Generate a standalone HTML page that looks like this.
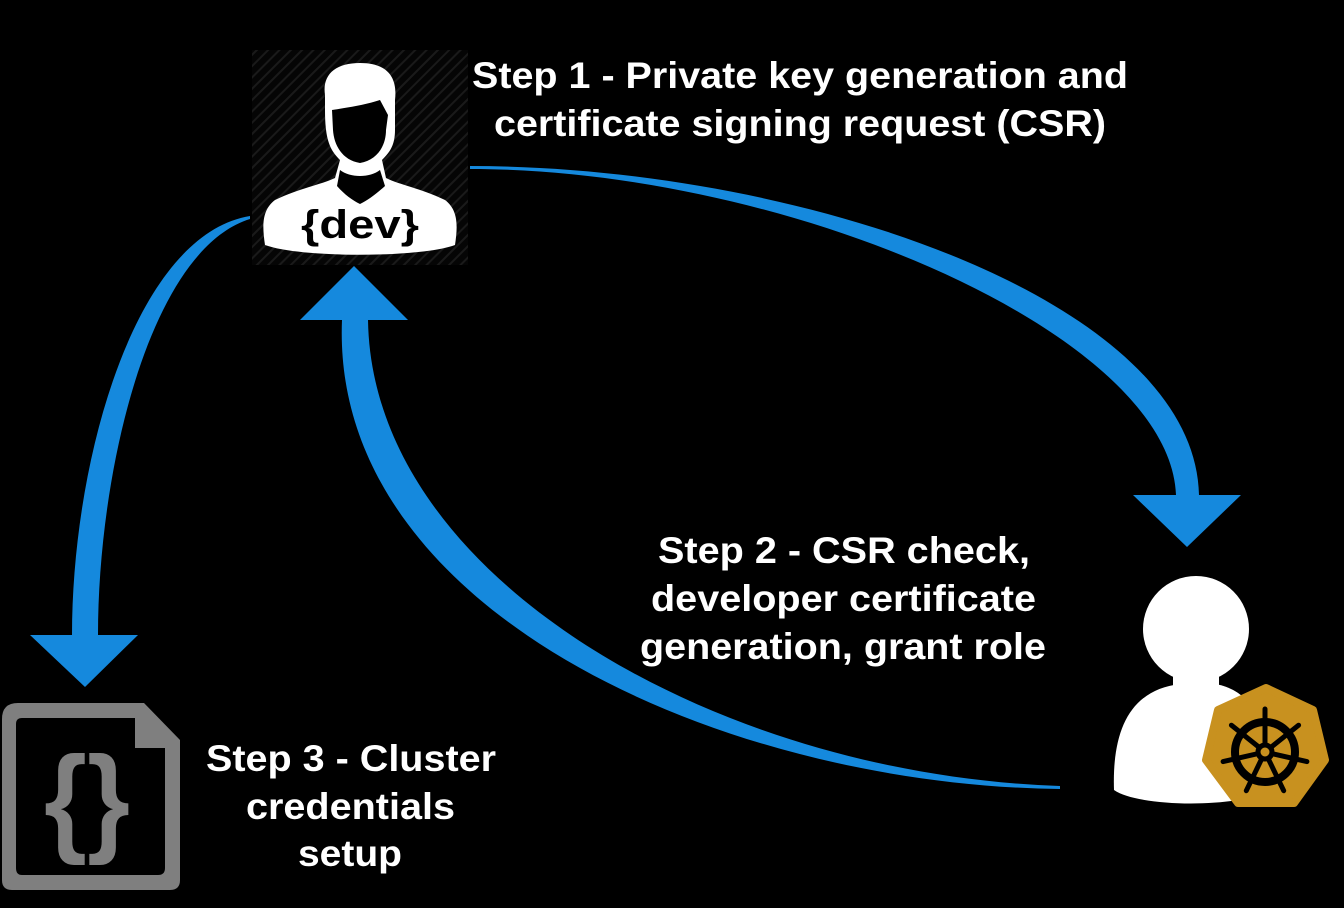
<!DOCTYPE html>
<html><head><meta charset="utf-8"><style>
html,body{margin:0;padding:0;background:#000;}
svg{display:block}
text{font-family:"Liberation Sans",sans-serif;font-weight:bold;fill:#fff;font-size:37px}
</style></head><body>
<svg width="1344" height="908" viewBox="0 0 1344 908" xmlns="http://www.w3.org/2000/svg">
<defs>
<pattern id="h" width="8" height="8" patternUnits="userSpaceOnUse" patternTransform="rotate(45)">
<rect width="8" height="8" fill="#050505"/><rect width="2" height="8" fill="#1a1a1a"/>
</pattern>
</defs>
<rect width="1344" height="908" fill="#000"/>
<!-- dev icon -->
<rect x="252" y="50" width="216" height="215" fill="url(#h)"/>
<path d="M265 245 C262 225 262 210 275 200 C300 188 320 185 335 178 L340 160 C330 150 325 140 325 110 L325 95 C322 75 335 63 360 63 C385 63 398 75 395 100 L395 130 C395 145 390 152 382 160 L386 178 C400 185 420 188 445 200 C458 210 458 225 455 245 C420 258 300 258 265 245 Z" fill="#fff"/>
<path d="M332 110 C345 108 365 105 380 100 L388 115 L386 130 C386 145 378 160 360 163 C342 160 334 145 333 130 Z" fill="#000"/>
<path d="M340 170 C350 178 370 178 380 170 L385 186 C375 195 368 200 360 204 C352 200 345 195 337 186 Z" fill="#000"/>
<text x="360" y="238" text-anchor="middle" style="fill:#000;font-size:40px" textLength="118" lengthAdjust="spacingAndGlyphs">{dev}</text>
<!-- arrow 1 -->
<path d="M470 166 C800 166 1195 300 1199 495 L1176 495 C1170 335 790 169 470 169 Z" fill="#1589dd"/>
<polygon points="1133,495 1241,495 1187,547" fill="#1589dd"/>
<!-- arrow 2 -->
<path d="M250 216 C135 235 72 460 72 635 L98 635 C98 470 150 250 250 219 Z" fill="#1589dd"/>
<polygon points="30,635 138,635 85,687" fill="#1589dd"/>
<!-- arrow 3 -->
<path d="M342 320 C330 610 720 785 1060 789 L1060 786 C720 775 372 580 368 320 Z" fill="#1589dd"/>
<polygon points="300,320 408,320 354,266" fill="#1589dd"/>
<!-- k8s user -->
<circle cx="1196" cy="629" r="53" fill="#fff"/>
<rect x="1173" y="670" width="46" height="20" fill="#fff"/>
<path d="M1114 790 C1112 730 1130 690 1180 684 L1215 684 C1250 690 1270 720 1272 790 C1240 808 1140 808 1114 790 Z" fill="#fff"/>
<polygon points="1266,688 1313,710 1325,760 1294,803 1238,803 1206,760 1218,710" fill="#c8911f" stroke="#c8911f" stroke-width="8" stroke-linejoin="round"/>
<g transform="translate(1265,752)" stroke="#000" stroke-linecap="round">
<circle r="30" fill="none" stroke-width="8"/>
<g stroke-width="5">
<line x1="0" y1="0" x2="0" y2="-43"/>
<line x1="0" y1="0" x2="33.6" y2="-26.8"/>
<line x1="0" y1="0" x2="41.9" y2="9.6"/>
<line x1="0" y1="0" x2="18.7" y2="38.7"/>
<line x1="0" y1="0" x2="-18.7" y2="38.7"/>
<line x1="0" y1="0" x2="-41.9" y2="9.6"/>
<line x1="0" y1="0" x2="-33.6" y2="-26.8"/>
</g>
<circle r="7" fill="#c8911f" stroke="#000" stroke-width="5"/>
</g>
<!-- file icon -->
<path d="M18 703 L144 703 L180 740 L180 880 Q180 890 170 890 L12 890 Q2 890 2 880 L2 719 Q2 703 18 703 Z" fill="#7f7f7f"/>
<path d="M22 718 L135 718 L135 748 L165 748 L165 868 Q165 875 158 875 L22 875 Q16 875 16 868 L16 724 Q16 718 22 718 Z" fill="#000"/>
<text x="87" y="840" text-anchor="middle" style="fill:#7f7f7f;font-size:120px" textLength="86" lengthAdjust="spacingAndGlyphs">{}</text>
<!-- labels -->
<text x="472" y="88" textLength="656" lengthAdjust="spacingAndGlyphs">Step 1 - Private key generation and</text>
<text x="494" y="136" textLength="612" lengthAdjust="spacingAndGlyphs">certificate signing request (CSR)</text>
<text x="658" y="563" textLength="372" lengthAdjust="spacingAndGlyphs">Step 2 - CSR check,</text>
<text x="651" y="611" textLength="385" lengthAdjust="spacingAndGlyphs">developer certificate</text>
<text x="640" y="659" textLength="406" lengthAdjust="spacingAndGlyphs">generation, grant role</text>
<text x="206" y="771" textLength="290" lengthAdjust="spacingAndGlyphs">Step 3 - Cluster</text>
<text x="246" y="819" textLength="209" lengthAdjust="spacingAndGlyphs">credentials</text>
<text x="298" y="866" textLength="104" lengthAdjust="spacingAndGlyphs">setup</text>
</svg>
</body></html>
